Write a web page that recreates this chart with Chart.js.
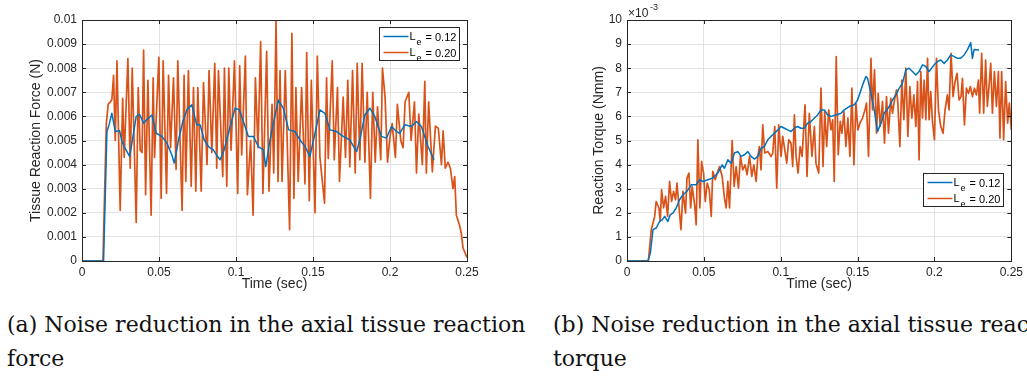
<!DOCTYPE html>
<html>
<head>
<meta charset="utf-8">
<script src="https://cdn.jsdelivr.net/npm/chart.js@4.4.1/dist/chart.umd.min.js"></script>
<style>
  body { margin: 0; background: #fff; width: 1027px; height: 377px; overflow: hidden; position: relative; }
  .plot { position: absolute; top: 0; }
  .caption { position: absolute; top: 308px; font-family: "DejaVu Serif", serif; font-size: 22px; line-height: 34px; color: #111; white-space: nowrap; overflow: hidden; }
</style>
</head>
<body>
<div class="plot" style="left:0"><canvas id="forceChart" width="500" height="300"></canvas></div>
<div class="plot" style="left:527px"><canvas id="torqueChart" width="500" height="300"></canvas></div>
<div class="caption" style="left:7px; width:540px">(a) Noise reduction in the axial tissue reaction<br>force</div>
<div class="caption" style="left:553px; width:474px">(b) Noise reduction in the axial tissue reaction<br>torque</div>
<script>
// time in ms, values in units of 1e-3 (N for force, Nmm for torque)
const timeTicks = ['0', '0.05', '0.1', '0.15', '0.2', '0.25'];
const forceTicks = ['0', '0.001', '0.002', '0.003', '0.004', '0.005', '0.006', '0.007', '0.008', '0.009', '0.01'];
const torqueTicks = ['0', '1', '2', '3', '4', '5', '6', '7', '8', '9', '10'];
const legendLabels = ['0.12', '0.20'];

const force012 = [
    [0, 0], [14.0, 0], [16.2, 5.37], [17.8, 5.7], [19.4, 6.13], [21.6, 5.37], [24.4, 5.41], [25.8, 5.0], [27.4, 4.75], [30.9, 4.34],
    [32.4, 4.89], [35.2, 6.0], [37.4, 6.08], [40.0, 5.72], [42.6, 5.9], [45.4, 6.06], [48.2, 5.3], [51.9, 5.17], [55.1, 4.89],
    [58.3, 4.41], [59.9, 4.06], [62.7, 5.03], [65.5, 5.79], [68.1, 6.27], [71.3, 6.48], [74.5, 5.65], [76.7, 5.65],
    [79.3, 5.03], [82.1, 4.75], [85.3, 4.61], [87.4, 4.4], [89.7, 4.2], [92.3, 4.61], [96.2, 5.58], [99.4, 6.34], [102.2, 6.27],
    [105.9, 5.58], [108.0, 5.17], [111.3, 5.17], [114.5, 4.75], [117.8, 4.61], [119.3, 3.92], [122.1, 5.03], [124.3, 5.72],
    [127.5, 6.68], [130.7, 6.34], [134.2, 5.44], [138.3, 5.37], [141.5, 5.03], [144.8, 4.75], [148.0, 4.34], [151.3, 5.3],
    [154.5, 6.27], [157.7, 6.13], [161.0, 5.44], [165.3, 5.37], [169.6, 5.17], [173.9, 5.03], [178.3, 4.54], [180.4, 5.03],
    [183.7, 6.06], [186.9, 6.34], [190.1, 6.0], [194.5, 5.17], [197.7, 5.1], [201.0, 5.58], [204.2, 5.37], [206.3, 5.3],
    [209.6, 5.65], [213.9, 5.58], [217.2, 5.79], [220.4, 5.58], [224.7, 4.75], [228.6, 4.2]
];
const force020 = [
    [0, 0], [13.6, 0], [15.8, 5.7], [17.0, 6.5], [18.4, 6.6], [19.4, 6.7], [20.5, 7.7], [21.6, 5.0], [22.7, 8.3],
    [24.8, 2.1], [26.4, 6.75], [27.4, 4.3], [29.8, 8.4], [31.3, 3.85], [32.6, 8.0], [35.2, 1.6], [36.5, 7.2],
    [37.8, 4.6], [39.0, 4.5], [40.0, 8.75], [41.3, 2.75], [42.8, 7.5], [44.9, 1.9], [46.2, 7.6], [47.1, 4.3],
    [49.9, 8.45], [51.4, 2.6], [52.7, 8.3], [54.9, 2.8], [56.2, 7.7], [57.5, 4.7], [59.4, 7.6], [61.1, 3.8],
    [62.2, 8.3], [65.0, 2.1], [66.3, 7.7], [67.4, 3.3], [69.1, 7.9], [70.9, 3.1], [72.4, 7.2], [73.9, 2.9],
    [75.2, 7.2], [77.4, 2.9], [78.9, 7.4], [81.2, 4.0], [82.5, 7.9], [84.3, 4.5], [86.2, 8.2], [87.5, 3.85],
    [88.6, 7.9], [91.4, 3.5], [92.5, 8.0], [94.0, 3.1], [95.3, 8.0], [96.8, 4.6], [99.0, 8.3], [101.1, 2.8],
    [102.4, 8.1], [103.7, 4.4], [106.1, 8.5], [107.4, 2.75], [109.5, 5.0], [111.1, 1.9], [112.6, 7.6], [114.3, 4.7],
    [116.0, 9.1], [117.5, 2.8], [119.9, 8.7], [121.4, 2.9], [123.4, 6.5], [124.5, 3.65], [126.0, 9.95], [127.3, 3.3],
    [128.6, 7.9], [129.9, 3.3], [132.0, 7.9], [134.8, 1.3], [136.3, 9.45], [137.6, 2.6], [138.9, 7.2], [140.4, 3.3],
    [142.6, 7.2], [144.8, 3.2], [145.9, 8.65], [147.6, 2.5], [148.9, 7.5], [151.3, 2.0], [152.8, 8.5], [154.5, 4.3],
    [157.5, 2.4], [158.8, 7.6], [159.9, 4.25], [162.5, 8.3], [163.8, 4.2], [165.9, 7.2], [167.2, 3.3], [169.6, 6.8],
    [171.1, 4.3], [172.6, 7.5], [173.9, 3.9], [175.7, 7.9], [177.4, 3.65], [178.7, 8.2], [180.4, 4.2], [181.9, 8.2],
    [183.7, 4.1], [185.2, 7.0], [187.3, 2.6], [188.8, 7.0], [190.4, 4.1], [191.9, 6.4], [194.0, 4.2], [195.1, 8.0],
    [196.8, 6.8], [198.4, 4.1], [199.9, 5.1], [201.4, 5.7], [203.5, 4.3], [204.8, 6.5], [207.0, 5.0], [208.5, 4.7],
    [209.8, 6.6], [212.2, 7.0], [213.7, 5.0], [215.9, 6.6], [217.2, 3.65], [218.7, 6.1], [221.0, 4.0], [222.6, 7.45],
    [223.6, 3.65], [225.1, 6.6], [227.5, 3.7], [229.5, 5.6], [231.4, 5.5], [233.4, 4.0], [234.5, 5.4], [235.9, 3.85],
    [237.7, 4.1], [239.2, 3.85], [240.9, 3.0], [242.0, 3.5], [243.1, 1.9], [245.3, 1.45], [246.3, 1.15], [247.4, 0.55],
    [249.6, 0.2], [250, 0.15]
];
const torque012 = [
    [0, 0], [13.6, 0], [15.2, 0.33], [16.9, 1.3], [19.0, 1.37], [21.2, 1.64], [22.9, 1.71], [24.5, 1.85],
    [26.6, 1.64], [28.1, 1.92], [29.9, 1.99], [32.0, 2.2], [34.2, 2.54], [36.4, 2.75], [39.0, 2.89], [41.8, 3.16],
    [45.0, 3.16], [47.2, 3.37], [49.4, 3.3], [52.6, 3.37], [55.8, 3.44], [59.1, 3.65], [61.9, 3.99], [63.4, 3.85],
    [65.6, 4.2], [67.7, 4.06], [69.9, 4.48], [72.1, 4.54], [74.2, 4.34], [76.4, 4.41], [78.6, 4.54], [80.7, 4.34],
    [82.9, 4.23], [85.1, 4.34], [87.2, 4.68], [89.4, 4.75], [91.6, 5.03], [93.7, 5.17], [95.9, 5.3], [98.1, 5.44],
    [100.2, 5.58], [102.4, 5.51], [104.5, 5.44], [106.7, 5.37], [108.9, 5.51], [111.0, 5.58], [113.2, 5.51], [115.4, 5.51],
    [117.5, 5.72], [119.7, 5.79], [121.9, 5.93], [124.0, 6.06], [126.2, 6.27], [128.4, 6.27], [130.5, 6.06], [132.7, 6.0],
    [135.9, 6.06], [139.2, 6.13], [141.3, 6.27], [144.6, 6.41], [147.8, 6.48], [150.0, 6.68], [152.2, 7.1], [153.7, 7.38],
    [155.4, 7.65], [156.5, 7.58], [158.7, 6.96], [160.8, 6.27], [163.0, 5.37], [165.2, 5.72], [167.3, 6.13], [170.6, 6.41],
    [172.7, 6.68], [174.9, 6.89], [177.1, 7.17], [179.2, 7.38], [181.4, 7.93], [183.5, 8.0], [185.7, 7.86], [187.9, 7.72],
    [190.0, 7.86], [192.2, 8.14], [194.4, 8.07], [196.5, 7.86], [199.8, 8.14], [201.9, 8.27], [204.1, 8.34], [206.3, 8.2],
    [208.4, 8.34], [210.6, 8.55], [212.8, 8.48], [214.9, 8.41], [217.1, 8.41], [219.3, 8.55], [221.4, 8.76], [223.6, 9.06],
    [224.7, 8.41], [225.8, 8.78], [229.0, 8.76]
];
const torque020 = [
    [0, 0], [13.9, 0], [15.8, 1.3], [18.0, 1.85], [19.0, 2.47], [20.8, 2.2], [21.6, 1.64], [22.5, 2.96],
    [23.8, 2.2], [25.1, 2.68], [26.4, 1.85], [27.7, 3.3], [29.0, 2.47], [30.3, 2.89], [31.6, 2.54], [32.5, 3.23],
    [33.8, 2.27], [35.1, 1.3], [36.4, 2.89], [38.1, 1.99], [39.0, 3.44], [40.3, 3.65], [41.4, 2.2], [42.4, 3.09],
    [44.0, 2.33], [45.0, 1.5], [46.1, 5.03], [47.4, 2.2], [48.5, 4.13], [49.8, 3.65], [50.9, 2.47], [52.2, 3.23],
    [53.5, 2.96], [54.8, 1.85], [55.8, 3.72], [57.4, 3.37], [59.1, 3.72], [60.2, 3.92], [61.9, 3.51], [63.4, 2.61],
    [64.5, 2.2], [65.6, 3.3], [66.7, 2.2], [68.4, 5.0], [69.7, 3.09], [71.0, 3.92], [72.5, 3.02], [73.8, 4.34],
    [75.3, 3.78], [76.8, 3.99], [78.1, 3.58], [79.7, 4.34], [81.2, 3.51], [82.5, 3.99], [84.0, 3.3], [85.1, 4.34],
    [86.1, 4.75], [87.2, 3.78], [88.3, 5.65], [89.6, 4.48], [91.6, 4.54], [93.7, 4.34], [94.8, 4.48], [96.1, 5.58],
    [97.4, 3.02], [98.7, 5.65], [100.2, 4.34], [101.3, 5.17], [102.8, 4.54], [103.9, 4.06], [105.2, 5.03], [106.7, 4.89],
    [107.8, 3.92], [108.9, 6.06], [110.0, 4.34], [111.3, 3.65], [112.6, 4.75], [113.9, 4.34], [115.8, 6.48], [117.1, 3.51],
    [118.6, 6.13], [120.3, 4.34], [121.9, 5.58], [122.9, 4.06], [124.7, 3.65], [126.2, 7.17], [127.5, 3.92], [128.6, 6.2],
    [129.9, 4.75], [131.2, 6.27], [132.7, 5.44], [133.8, 5.86], [134.8, 3.3], [136.1, 8.48], [137.4, 4.41], [138.7, 5.79],
    [139.8, 5.3], [141.1, 6.2], [142.4, 4.75], [143.7, 5.93], [145.0, 4.34], [146.3, 7.17], [147.6, 3.99], [148.9, 6.55],
    [150.2, 5.44], [151.5, 5.72], [153.2, 5.93], [154.8, 6.27], [155.8, 6.55], [157.1, 4.34], [158.7, 8.41], [159.7, 6.27],
    [161.0, 7.93], [162.3, 5.3], [163.4, 6.96], [164.7, 5.58], [166.2, 6.62], [167.5, 4.89], [168.8, 6.82], [170.1, 5.3],
    [171.6, 6.75], [172.7, 6.13], [174.0, 6.68], [175.3, 7.1], [176.2, 6.55], [177.5, 4.75], [178.8, 7.51], [180.1, 5.86],
    [181.4, 8.0], [182.7, 5.17], [184.0, 7.24], [185.3, 5.93], [186.6, 6.89], [187.9, 5.58], [189.0, 7.44], [190.0, 4.2],
    [191.1, 7.86], [192.2, 5.93], [193.3, 7.51], [194.4, 5.86], [195.5, 8.41], [196.5, 5.86], [197.6, 7.03], [198.7, 5.79],
    [200.0, 5.03], [201.3, 8.41], [202.6, 6.27], [204.1, 5.58], [205.6, 5.3], [206.9, 6.27], [208.4, 6.89], [209.5, 6.27],
    [210.8, 8.62], [212.1, 6.82], [213.4, 7.44], [214.7, 7.79], [216.0, 6.68], [217.3, 6.82], [218.2, 7.58], [219.5, 5.65],
    [220.8, 7.17], [222.1, 6.96], [223.4, 7.24], [224.7, 6.82], [226.0, 7.17], [227.3, 6.89], [228.6, 7.51], [229.4, 6.13],
    [230.7, 8.62], [232.0, 6.13], [233.3, 8.34], [234.4, 6.41], [235.5, 7.24], [236.6, 8.2], [237.7, 6.13], [239.0, 7.86],
    [240.3, 6.41], [241.6, 7.86], [242.6, 5.1], [243.7, 7.86], [245.0, 5.03], [246.3, 7.44], [247.6, 5.72], [248.7, 6.55],
    [250.0, 5.44]
];

const BLUE = '#0072BD';
const ORANGE = '#D95319';
const AXIS = '#262626';

function toXY(pairs) {
    return pairs.map(p => ({ x: p[0], y: p[1] }));
}

// MATLAB-ish axes box, inward ticks, legend with subscripts, exponent label
const matlabBox = {
    id: 'matlabBox',
    afterDraw(chart, args, opts) {
        const ctx = chart.ctx;
        const a = chart.chartArea;
        const xs = chart.scales.x, ys = chart.scales.y;
        ctx.save();
        ctx.strokeStyle = AXIS;
        ctx.lineWidth = 1;
        ctx.beginPath();
        xs.ticks.forEach(t => {
            const px = Math.round(xs.getPixelForValue(t.value)) + 0.5;
            ctx.moveTo(px, a.bottom); ctx.lineTo(px, a.bottom - 4);
            ctx.moveTo(px, a.top); ctx.lineTo(px, a.top + 4);
        });
        ys.ticks.forEach(t => {
            const py = Math.round(ys.getPixelForValue(t.value)) + 0.5;
            ctx.moveTo(a.left, py); ctx.lineTo(a.left + 4, py);
            ctx.moveTo(a.right, py); ctx.lineTo(a.right - 4, py);
        });
        ctx.stroke();
        ctx.strokeRect(Math.round(a.left) + 0.5, Math.round(a.top) + 0.5, Math.round(a.right - a.left), Math.round(a.bottom - a.top));

        // legend
        const bx = Math.round(a.right - opts.legendRight - 80) + 0.5;
        const by = Math.round(a.top + opts.legendTop) + 0.5;
        ctx.fillStyle = '#fff';
        ctx.fillRect(bx, by, 80, 33);
        ctx.strokeStyle = AXIS;
        ctx.strokeRect(bx, by, 80, 33);
        chart.data.datasets.forEach((ds, i) => {
            const ly = by + 9 + i * 16;
            ctx.strokeStyle = ds.borderColor;
            ctx.lineWidth = 1.5;
            ctx.beginPath();
            ctx.moveTo(bx + 4, ly); ctx.lineTo(bx + 29, ly);
            ctx.stroke();
            ctx.fillStyle = '#000';
            ctx.textBaseline = 'alphabetic';
            ctx.font = '11px "Liberation Sans", Arial, sans-serif';
            ctx.fillText('L', bx + 30, ly + 3);
            ctx.fillText('= ' + legendLabels[i], bx + 46, ly + 4);
            ctx.font = '9px "Liberation Sans", Arial, sans-serif';
            ctx.fillText('e', bx + 37, ly + 8);
        });

        if (opts.exponent) {
            ctx.fillStyle = AXIS;
            ctx.font = '12px "Liberation Sans", Arial, sans-serif';
            ctx.fillText('\u00D710', a.left + 1, a.top - 3);
            ctx.font = '9px "Liberation Sans", Arial, sans-serif';
            ctx.fillText('-3', a.left + 23, a.top - 10);
        }
        ctx.restore();
    }
};

function makeChart(id, low, high, yTicks, yTitle, yWidth, yTitlePad, padRight, legendTop, legendRight, exponent) {
    return new Chart(document.getElementById(id), {
        type: 'line',
        data: {
            datasets: [
                { data: toXY(low), borderColor: BLUE, borderWidth: 1.5, pointRadius: 0, tension: 0, borderJoinStyle: 'round' },
                { data: toXY(high), borderColor: ORANGE, borderWidth: 1.7, pointRadius: 0, tension: 0, borderJoinStyle: 'round' }
            ]
        },
        options: {
            responsive: false,
            animation: false,
            devicePixelRatio: 1,
            layout: { padding: { left: 0, right: padRight, top: 20, bottom: 0 } },
            plugins: {
                legend: { display: false },
                tooltip: { enabled: false },
                matlabBox: { legendTop: legendTop, legendRight: legendRight, exponent: exponent }
            },
            scales: {
                x: {
                    type: 'linear', min: 0, max: 250,
                    afterFit: s => { s.height = 39; },
                    grid: { color: '#e3e3e3', drawTicks: false },
                    border: { display: false },
                    ticks: {
                        stepSize: 50, padding: 4, color: AXIS, maxRotation: 0,
                        font: { family: '"Liberation Sans", Arial, sans-serif', size: 12 },
                        callback: (v, i) => timeTicks[i]
                    },
                    title: {
                        display: true, text: 'Time (sec)', color: AXIS,
                        font: { family: '"Liberation Sans", Arial, sans-serif', size: 14 },
                        padding: { top: 7, bottom: 7 }
                    }
                },
                y: {
                    type: 'linear', min: 0, max: 10,
                    afterFit: s => { s.width = yWidth; },
                    grid: { color: '#e3e3e3', drawTicks: false },
                    border: { display: false },
                    ticks: {
                        stepSize: 1, padding: 5, color: AXIS,
                        font: { family: '"Liberation Sans", Arial, sans-serif', size: 12 },
                        callback: (v, i) => yTicks[i]
                    },
                    title: {
                        display: true, text: yTitle, color: AXIS,
                        font: { family: '"Liberation Sans", Arial, sans-serif', size: 14 },
                        padding: { top: yTitlePad, bottom: yTitlePad }
                    }
                }
            }
        },
        plugins: [matlabBox]
    });
}

makeChart('forceChart', force012, force020, forceTicks, 'Tissue Reaction Force (N)', 82, 28, 33, 7, 8, false);
makeChart('torqueChart', torque012, torque020, torqueTicks, 'Reaction Torque (Nmm)', 100, 64, 15, 153, 8, true);
</script>
</body>
</html>
